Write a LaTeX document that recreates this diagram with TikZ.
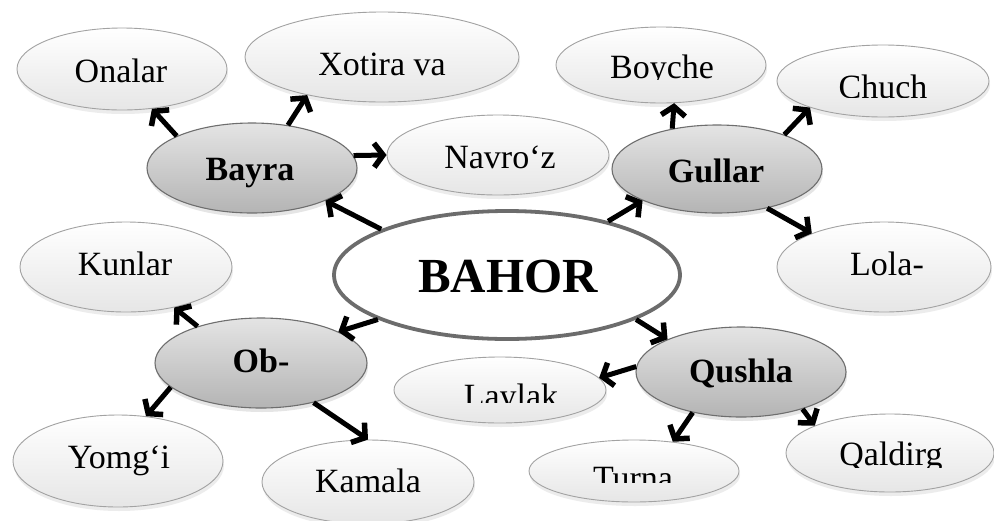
\documentclass[tikz,border=0pt]{standalone}
\usepackage{fontspec}
\setmainfont{Liberation Serif}
\usetikzlibrary{arrows.meta,shapes.geometric,shadows}
\definecolor{leafborder}{HTML}{A2A2A2}
\definecolor{leafbot}{HTML}{E6E6E6}
\definecolor{hubborder}{HTML}{6E6E6E}
\definecolor{hubtop}{HTML}{E4E4E4}
\definecolor{hubbot}{HTML}{B4B4B4}
\definecolor{mainborder}{HTML}{6C6C6C}
\begin{document}
\begin{tikzpicture}[x=1pt,y=-1pt,
  leaf/.style={ellipse, draw=leafborder, line width=0.9pt, top color=white, bottom color=leafbot, inner sep=0pt,
    drop shadow={shadow xshift=1pt, shadow yshift=-4pt, opacity=0.15}},
  hub/.style={ellipse, draw=hubborder, line width=1.1pt, top color=hubtop, bottom color=hubbot, inner sep=0pt,
    drop shadow={shadow xshift=1pt, shadow yshift=-4pt, opacity=0.2}},
  ltxt/.style={font=\fontsize{34}{34}\selectfont, anchor=base, inner sep=0pt},
  htxt/.style={font=\bfseries\fontsize{34}{34}\selectfont, anchor=base, inner sep=0pt},
  conn/.style={line width=5pt, -{Straight Barb[length=9pt,width=24pt,line width=5.5pt]}}
]
\useasboundingbox (0,0) rectangle (994,520);
\fill[white] (0,0) rectangle (994,520);

% main
\node[ellipse, draw=mainborder, line width=3.8pt, fill=white, inner sep=0pt,
  minimum width=346pt, minimum height=128pt] (bahor) at (507,275) {};

% hubs
\node[hub, minimum width=210pt, minimum height=90pt] (bayra) at (252,168) {};
\node[hub, minimum width=210pt, minimum height=88pt] (gullar) at (717,169) {};
\node[hub, minimum width=212pt, minimum height=90pt] (ob) at (261,363) {};
\node[hub, minimum width=210pt, minimum height=90pt] (qushla) at (741,372) {};

% leaves
\node[leaf, minimum width=210pt, minimum height=82pt] (onalar) at (122,69) {};
\node[leaf, minimum width=274pt, minimum height=90pt] (xotira) at (382,57) {};
\node[leaf, minimum width=222pt, minimum height=80pt] (navroz) at (498,155) {};
\node[leaf, minimum width=210pt, minimum height=76pt] (boyche) at (661,65) {};
\node[leaf, minimum width=212pt, minimum height=72pt] (chuch) at (883,81) {};
\node[leaf, minimum width=214pt, minimum height=90pt] (lola) at (884,267) {};
\node[leaf, minimum width=212pt, minimum height=90pt] (kunlar) at (126,267) {};
\node[leaf, minimum width=210pt, minimum height=92pt] (yomgi) at (118,461) {};
\node[leaf, minimum width=212pt, minimum height=84pt] (kamala) at (368,482) {};
\node[leaf, minimum width=212pt, minimum height=66pt] (laylak) at (500,390) {};
\node[leaf, minimum width=210pt, minimum height=62pt] (turna) at (634,471) {};
\node[leaf, minimum width=208pt, minimum height=78pt] (qaldirg) at (890,453) {};

% connectors
\draw[conn] (bahor.160) -- (bayra.336);
\draw[conn] (bahor.28) -- (gullar.203.5);
\draw[conn] (bahor.199) -- (ob.22.7);
\draw[conn] (bahor.341) -- (qushla.156.9);

\draw[conn] (bayra.157.5) -- (onalar.307.5);
\draw[conn] (bayra.50) -- (xotira.207.5);
\draw[conn] (bayra.7.4) -- (navroz.180);

\draw[conn] (gullar.138.3) -- (boyche.289);
\draw[conn] (gullar.27.2) -- (chuch.200.9);
\draw[conn] (gullar.322.8) -- (lola.155);

\draw[conn] (ob.150.2) -- (kunlar.320);
\draw[conn] (ob.195.3) -- (yomgi.58);
\draw[conn] (ob.323) -- (kamala.90);

\draw[conn] (qushla.177.3) -- (laylak.7.3);
\draw[conn] (qushla.220.9) -- (turna.37.3);
\draw[conn] (qushla.329.7) -- (qaldirg.160.4);

% texts
\node[font=\bfseries\fontsize{49}{49}\selectfont, anchor=base, inner sep=0pt] (tbahor) at (508,292) {BAHOR};
\node[htxt] (tbayra) at (250,180) {Bayra};
\node[htxt] (tgullar) at (716,182) {Gullar};
\node[htxt] (tob) at (261,372) {Ob-};
\node[htxt] (tqushla) at (741,382) {Qushla};

\node[ltxt] (tonalar) at (121,82) {Onalar};
\node[ltxt] (txotira) at (382,75) {Xotira va};
\node[ltxt] (tnavroz) at (500,168) {Navro‘z};
\begin{scope}
\clip (600,30) rectangle (730,79);
\node[ltxt] (tboyche) at (662,78) {Boyche};
\end{scope}
\begin{scope}
\clip (820,50) rectangle (950,97);
\node[ltxt] (tchuch) at (883,98) {Chuch};
\end{scope}
\node[ltxt] (tlola) at (887,275) {Lola-};
\node[ltxt] (tkunlar) at (125,275) {Kunlar};
\node[ltxt] (tyomgi) at (119,468) {Yomg‘i};
\node[ltxt] (tkamala) at (368,492) {Kamala};
\begin{scope}
\clip (430,360) rectangle (590,402);
\node[ltxt] (tlaylak) at (511,407) {Laylak};
\end{scope}
\begin{scope}
\clip (570,445) rectangle (700,482);
\node[ltxt] (tturna) at (633,489) {Turna};
\end{scope}
\begin{scope}
\clip (820,420) rectangle (960,467);
\node[ltxt] (tqaldirg) at (891,465) {Qaldirg};
\end{scope}
\end{tikzpicture}
\end{document}
